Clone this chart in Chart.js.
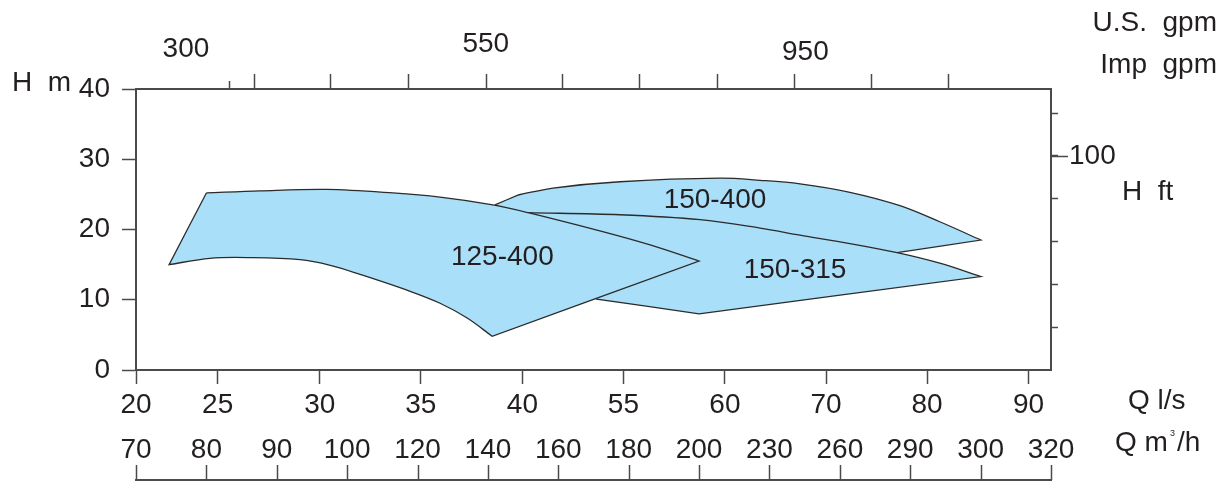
<!DOCTYPE html>
<html>
<head>
<meta charset="utf-8">
<script src="https://cdn.jsdelivr.net/npm/chart.js@4/dist/chart.umd.min.js"></script>
<style>
  html, body { margin: 0; padding: 0; background: #ffffff; overflow: hidden; }
  #wrap { width: 1228px; height: 481px; }
</style>
</head>
<body>
<div id="wrap"><canvas id="c" width="1228" height="481"></canvas></div>
<script>
// Flow graduations in m3/h (evenly spaced along the flow axis)
const flowTicksM3h = [70, 80, 90, 100, 120, 140, 160, 180, 200, 230, 260, 290, 300, 320];
// Flow graduations in l/s, and the m3/h flow each one stands at
const flowTicksLs = [20, 25, 30, 35, 40, 55, 60, 70, 80, 90];
const flowLsAtM3h = [70, 81.6, 96.1, 120.9, 149.8, 178.5, 211, 254.1, 292.4, 313.6];
// gpm graduations along the top edge (flow in m3/h where each stands)
const gpmLabels = ['300', '550', '950'];
const gpmLabelAtM3h = [77.1, 139.4, 245.3];
const gpmTickAtM3h = [86.8, 97.7, 117.3, 139.5, 161.3, 183.2, 207.7, 240.5, 273.3, 295.5];
const gpmMinorTickAtM3h = [83.2];
// Head graduations
const headTicksM = [0, 10, 20, 30, 40];
const headTicksFt = [20, 40, 60, 80, 100, 120];
const headLabelsFt = [100];
const M_TO_FT = 3.28084;

// Pump models and their operating ranges: each outline is a list of edges,
// each edge a list of [Q m3/h, H m] points; an edge ends where the next begins.
const modelNames = ['125-400', '150-315', '150-400'];
const range125_400 = [
  // largest impeller
  [[80, 25.2], [87.6, 25.5], [97.1, 25.7], [113, 25.2], [126.4, 24.6], [141.4, 23.5],
   [151.4, 22.4], [171.8, 19.8], [186.1, 17.8], [200, 15.5]],
  // maximum flow
  [[200, 15.5], [141.2, 4.8]],
  // smallest impeller
  [[141.2, 4.8], [134.1, 7.4], [126.4, 9.5], [117.9, 11.2], [103.7, 13.6], [97.6, 14.9],
   [93.3, 15.7], [86.2, 16.0], [80.5, 15.9], [74.7, 15.0]],
  // minimum flow
  [[74.7, 15.0], [80, 25.2]]
];
const range150_315 = [
  [[151.4, 22.4], [177.5, 22.1], [200.4, 21.4], [226, 20.2], [243, 19.2], [264.3, 18.0],
   [284.4, 16.7], [294.2, 15.2], [300.1, 13.3]],
  [[300.1, 13.3], [200, 8.0]],
  [[200, 8.0], [170.9, 10.1]],
  [[170.9, 10.1], [151.4, 22.4]]
];
const range150_400 = [
  [[142, 23.5], [148.5, 24.9]],
  [[148.5, 24.9], [158.5, 25.9], [177.5, 26.8], [208.9, 27.3], [226, 27.0], [243, 26.5],
   [264.3, 25.3], [285.6, 23.4], [294.2, 21.1], [300.1, 18.5]],
  [[300.1, 18.5], [284.4, 16.7]],
  [[284.4, 16.7], [243, 15.7]],
  [[243, 15.7], [171.8, 17.1]],
  [[171.8, 17.1], [142, 23.5]]
];
const modelRanges = [range125_400, range150_315, range150_400];
const modelLabelQ = [144.1, 240.9, 206.8];
const modelLabelH = [16.0, 14.2, 24.2];

const INK = '#231f20';
const AXIS = '#4a4a4a';
const FILL = '#a9dff8';
const EDGE = '#2b2b2b';
const FONT = '"Liberation Sans", Arial, Helvetica, sans-serif';
const SIZE = 28;

// Position of an m3/h flow on the evenly spaced flow axis
function toSlot(q) {
  const t = flowTicksM3h;
  for (let i = 0; i < t.length - 1; i++) {
    if (q <= t[i + 1]) return i + (q - t[i]) / (t[i + 1] - t[i]);
  }
  return t.length - 1;
}
// Edges joined end to end; the repeated corner points keep the corners sharp
const asOutline = edges => edges.flat().map(([q, h]) => ({ x: toSlot(q), y: h }));

// Secondary scales, unit captions and model names
const decorations = {
  id: 'decorations',
  afterDraw(chart) {
    const { ctx, chartArea: a, scales: { x, y, yft } } = chart;
    const px = q => x.getPixelForValue(toSlot(q));
    ctx.save();
    ctx.fillStyle = INK;
    ctx.strokeStyle = AXIS;
    ctx.font = `${SIZE}px ${FONT}`;

    // m3/h scale along the foot of the figure
    const baseY = chart.height - 1;
    ctx.lineWidth = 2;
    ctx.beginPath();
    ctx.moveTo(px(flowTicksM3h[0]) - 1, baseY);
    ctx.lineTo(px(flowTicksM3h[flowTicksM3h.length - 1]) + 1, baseY);
    ctx.stroke();
    ctx.lineWidth = 1.5;
    flowTicksM3h.forEach(q => {
      const X = Math.round(px(q)) + 0.5;
      ctx.beginPath();
      ctx.moveTo(X, baseY);
      ctx.lineTo(X, baseY - 15);
      ctx.stroke();
    });
    ctx.textAlign = 'center';
    ctx.textBaseline = 'middle';
    flowTicksM3h.forEach(q => ctx.fillText(String(q), px(q), baseY - 30));

    // short gpm graduation on the top edge
    gpmMinorTickAtM3h.forEach(q => {
      const X = Math.round(px(q)) + 0.5;
      ctx.beginPath();
      ctx.moveTo(X, a.top);
      ctx.lineTo(X, a.top - 8);
      ctx.stroke();
    });
    // gpm figures
    const gpmDy = [1, -4, 4];
    gpmLabels.forEach((t, i) => ctx.fillText(t, px(gpmLabelAtM3h[i]), 48 + gpmDy[i]));

    // longer graduation for the labelled foot value
    headLabelsFt.forEach(v => {
      const Y = Math.round(yft.getPixelForValue(v)) + 0.5;
      ctx.beginPath();
      ctx.moveTo(a.right, Y);
      ctx.lineTo(a.right + 17, Y);
      ctx.stroke();
    });

    // unit captions
    ctx.textAlign = 'left';
    ctx.fillText('H  m', 12, 83);
    ctx.fillText('H  ft', 1122, 192);
    ctx.fillText('Q l/s', 1128, 401);
    ctx.textAlign = 'right';
    ctx.fillText('U.S.  gpm', 1217, 23);
    ctx.fillText('Imp  gpm', 1217, 65);
    // Q m3/h with a small superscript
    ctx.textAlign = 'left';
    let cx = 1115;
    ctx.fillText('Q m', cx, 443);
    cx += ctx.measureText('Q m').width + 2;
    ctx.font = `9px ${FONT}`;
    ctx.fillText('3', cx, 434);
    cx += ctx.measureText('3').width + 2;
    ctx.font = `${SIZE}px ${FONT}`;
    ctx.fillText('/h', cx, 443);

    // model names inside their ranges
    ctx.textAlign = 'center';
    modelNames.forEach((n, i) => {
      ctx.fillText(n, px(modelLabelQ[i]), y.getPixelForValue(modelLabelH[i]));
    });
    ctx.restore();
  }
};

const tickFont = { family: FONT, size: SIZE };

new Chart(document.getElementById('c'), {
  type: 'line',
  data: {
    datasets: modelRanges.map((r, i) => ({
      label: modelNames[i],
      data: asOutline(r),
      fill: 'shape',
      backgroundColor: FILL,
      borderColor: EDGE,
      borderWidth: 1.3,
      borderJoinStyle: 'miter',
      pointRadius: 0,
      tension: 0.35,
      xAxisID: 'x',
      yAxisID: 'y'
    }))
  },
  options: {
    responsive: false,
    animation: false,
    devicePixelRatio: 1,
    events: [],
    layout: { padding: 0 },
    plugins: { legend: { display: false }, tooltip: { enabled: false } },
    scales: {
      x: {
        type: 'linear', position: 'bottom',
        min: 0, max: flowTicksM3h.length - 1,
        afterBuildTicks: s => { s.ticks = flowLsAtM3h.map(q => ({ value: toSlot(q) })); },
        afterFit: s => { s.height = 111; },
        ticks: {
          autoSkip: false, maxRotation: 0, minRotation: 0, padding: 4,
          color: INK, font: tickFont,
          callback: (v, i) => String(flowTicksLs[i])
        },
        grid: { drawOnChartArea: false, tickLength: 14, tickColor: AXIS, tickWidth: 1.5 },
        border: { display: true, color: AXIS, width: 2 }
      },
      xTop: {
        type: 'linear', position: 'top',
        min: 0, max: flowTicksM3h.length - 1,
        afterBuildTicks: s => { s.ticks = gpmTickAtM3h.map(q => ({ value: toSlot(q) })); },
        afterFit: s => { s.height = 89; },
        ticks: { display: false },
        grid: { drawOnChartArea: false, tickLength: 15, tickColor: AXIS, tickWidth: 1.5 },
        border: { display: true, color: AXIS, width: 2 }
      },
      y: {
        type: 'linear', position: 'left',
        min: 0, max: 40,
        afterBuildTicks: s => { s.ticks = headTicksM.map(v => ({ value: v })); },
        afterFit: s => { s.width = 136; },
        ticks: { padding: 12, color: INK, font: tickFont },
        grid: { drawOnChartArea: false, tickLength: 14, tickColor: AXIS, tickWidth: 1.5 },
        border: { display: true, color: AXIS, width: 2 }
      },
      yft: {
        type: 'linear', position: 'right',
        min: 0, max: 40 * M_TO_FT,
        afterBuildTicks: s => { s.ticks = headTicksFt.map(v => ({ value: v })); },
        afterFit: s => { s.width = 177; },
        ticks: {
          padding: 11, color: INK, font: tickFont,
          callback: v => (headLabelsFt.includes(v) ? String(v) : '')
        },
        grid: { drawOnChartArea: false, tickLength: 7, tickColor: AXIS, tickWidth: 1.5 },
        border: { display: true, color: AXIS, width: 2 }
      }
    }
  },
  plugins: [decorations]
});
</script>
</body>
</html>
